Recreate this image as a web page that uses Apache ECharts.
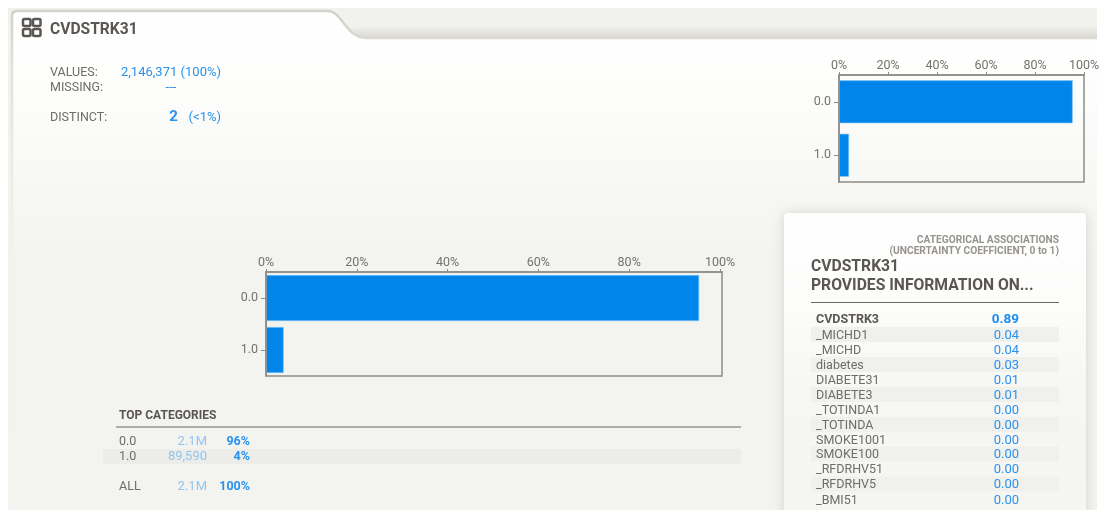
<!DOCTYPE html>
<html>
<head>
<meta charset="utf-8">
<style>html,body{margin:0;padding:0;background:#fff}#c{width:1105px;height:510px}</style>
<script src="https://cdn.jsdelivr.net/npm/echarts@6/dist/echarts.min.js"></script>
</head>
<body>
<div id="c"></div>
<script>
const categories = ['0.0', '1.0'];
const mainValues = [95.4, 3.9];
const sideValues = [95.4, 4.1];
const tickValues = [0, 20, 40, 60, 80, 100];
const assocNames = ['CVDSTRK3', '_MICHD1', '_MICHD', 'diabetes', 'DIABETE31', 'DIABETE3', '_TOTINDA1', '_TOTINDA', 'SMOKE1001', 'SMOKE100', '_RFDRHV51', '_RFDRHV5', '_BMI51'];
const assocValues = ['0.89', '0.04', '0.04', '0.03', '0.01', '0.01', '0.00', '0.00', '0.00', '0.00', '0.00', '0.00', '0.00'];
const topNames = ['0.0', '1.0', 'ALL'];
const topCounts = ['2.1M', '89,590', '2.1M'];
const topPercents = ['96%', '4%', '100%'];
const statLabels = ['VALUES:', 'MISSING:', 'DISTINCT:'];

const FONT = 'Roboto, sans-serif';
const DARK = '#5a5653', GREY = '#6f6c69', BLUE = '#2a92ee', PALE = '#93c5ef', AXIS = '#8f8c87';

echarts.graphic.registerShape('pageTab', echarts.graphic.extendShape({
  shape: {},
  buildPath(ctx) {
    ctx.moveTo(12, 530);
    ctx.lineTo(12, 16);
    ctx.quadraticCurveTo(12, 11, 17, 11);
    ctx.lineTo(328, 11);
    ctx.bezierCurveTo(342, 11, 346, 38, 366, 38);
    ctx.lineTo(1110, 38);
    ctx.lineTo(1110, 530);
    ctx.closePath();
  }
}));

const g = [];
const txt = (text, x, y, fill, size, weight, align) => g.push({
  type: 'text', z: 50, silent: true,
  style: { text, x, y: y + 1, fill, font: (weight || 'normal') + ' ' + size + 'px ' + FONT, textAlign: align || 'left', textVerticalAlign: 'middle' }
});
const rect = (x, y, w, h, fill, z, extra) => g.push(Object.assign({
  type: 'rect', z: z === undefined ? -5 : z, silent: true, shape: { x, y, width: w, height: h }, style: { fill }
}, extra || {}));

// page frame
rect(8, 8, 1089, 502, { type: 'linear', x: 0, y: 0, x2: 0, y2: 1, colorStops: [{ offset: 0, color: '#f1f1ed' }, { offset: 1, color: '#f3f3ef' }] }, -20);
rect(330, 26, 767, 12, { type: 'linear', x: 0, y: 0, x2: 0, y2: 1, colorStops: [{ offset: 0, color: 'rgba(200,198,190,0)' }, { offset: 1, color: 'rgba(200,198,190,0.6)' }] }, -18);
g.push({
  type: 'pageTab', z: -15, silent: true, shape: {},
  style: {
    fill: { type: 'linear', x: 0, y: 0, x2: 0, y2: 1, colorStops: [{ offset: 0, color: '#ffffff' }, { offset: 0.12, color: '#fefefd' }, { offset: 0.48, color: '#f3f3ef' }, { offset: 1, color: '#f3f3ef' }] },
    stroke: { type: 'linear', x: 0, y: 0, x2: 0, y2: 1, colorStops: [{ offset: 0, color: '#d3d0cb' }, { offset: 0.12, color: '#e4e2de' }, { offset: 0.5, color: '#f3f3ef' }, { offset: 1, color: '#f3f3ef' }] },
    lineWidth: 2.5
  }
});
rect(0, 0, 8, 510, '#fff', -10);
rect(1097, 0, 8, 510, '#fff', -10);
rect(0, 0, 1105, 8, '#fff', -10);

// association card
rect(784, 213, 302, 310, '#fff', -8, {
  shape: { x: 784, y: 213, width: 302, height: 310, r: 4 },
  style: {
    fill: { type: 'linear', x: 0, y: 0, x2: 0, y2: 1, colorStops: [{ offset: 0, color: '#ffffff' }, { offset: 0.3, color: '#fcfcfb' }, { offset: 0.6, color: '#f6f6f4' }, { offset: 1, color: '#f5f5f2' }] },
    shadowBlur: 12, shadowColor: 'rgba(0,0,0,0.14)', shadowOffsetX: 0, shadowOffsetY: 0
  }
});

// title icon
[[23, 19], [33, 19], [23, 29], [33, 29]].forEach(p => g.push({
  type: 'rect', z: 50, silent: true, shape: { x: p[0], y: p[1], width: 7.5, height: 7, r: 1.5 }, style: { fill: 'none', stroke: DARK, lineWidth: 2.5 }
}));
txt('CVDSTRK31', 50, 29, DARK, 15.6, 'bold');

// stats
txt(statLabels[0], 50, 72, GREY, 12.5);
txt(statLabels[1], 50, 87, GREY, 12.5);
txt(statLabels[2], 50, 117, GREY, 12.5);
txt('2,146,371', 121, 72, BLUE, 13);
txt('(100%)', 221, 72, BLUE, 13, 'normal', 'right');
txt('---', 171, 87, BLUE, 13, 'normal', 'center');
txt('2', 173.5, 116.5, BLUE, 15, 'bold', 'center');
txt('(<1%)', 221, 116.5, BLUE, 13, 'normal', 'right');

// top categories table
txt('TOP CATEGORIES', 119, 415, DARK, 12, 'bold');
rect(116, 426.5, 625, 1, '#6b6864', 10);
rect(103, 449, 638, 15, '#ecece8', -3);
[440.5, 456, 485.5].forEach((y, i) => {
  txt(topNames[i], 119, y, GREY, 12.5);
  txt(topCounts[i], 207, y, PALE, 13, 'normal', 'right');
  txt(topPercents[i], 250, y, BLUE, 12.5, 'bold', 'right');
});

// associations table
txt('CATEGORICAL ASSOCIATIONS', 1059, 239, '#97938e', 10.2, 'bold', 'right');
txt('(UNCERTAINTY COEFFICIENT, 0 to 1)', 1059, 250.5, '#97938e', 10.2, 'bold', 'right');
txt('CVDSTRK31', 811, 266.5, DARK, 15.7, 'bold');
txt('PROVIDES INFORMATION ON...', 811, 285, DARK, 15.7, 'bold');
rect(811, 302, 248, 1, '#6b6864', 10);
const rowY = [319, 334.5, 349.5, 364.5, 379.5, 394.5, 409.5, 424.5, 439.5, 454, 469, 484, 499.5];
assocNames.forEach((n, i) => {
  const y = rowY[i], first = i === 0;
  if (i % 2 === 1) rect(811, y - 7.5, 248, 15, '#f0f0ed', -3);
  txt(n, 816, y, first ? DARK : GREY, 12.5, first ? 'bold' : 'normal');
  txt(assocValues[i], 1019, y, first ? '#1c8df0' : BLUE, first ? 13.5 : 13, first ? 'bold' : 'normal', 'right');
});

const axisFont = { color: '#75726f', fontFamily: FONT, fontSize: 12.5 };
const axisLine = { show: true, lineStyle: { color: AXIS, width: 1.5 } };
const xAxisFor = (gridIndex, max) => ({
  gridIndex, type: 'value', position: 'top', min: 0, max,
  axisLine, splitLine: { show: false },
  axisTick: { show: true, length: 3, customValues: tickValues, lineStyle: { color: AXIS } },
  axisLabel: Object.assign({ margin: 3, customValues: tickValues, formatter: v => v + '%', hideOverlap: false }, axisFont)
});
const yAxisFor = gridIndex => ({
  gridIndex, type: 'category', inverse: true, data: categories,
  axisLine, splitLine: { show: false },
  axisTick: { show: true, length: 5, alignWithLabel: true, lineStyle: { color: AXIS } },
  axisLabel: Object.assign({ margin: 8 }, axisFont),
  z: 5
});
const barStyle = { color: '#0086eb', borderColor: '#8cc8f6', borderWidth: 0.6 };

const chart = echarts.init(document.getElementById('c'), null, { renderer: 'canvas' });
chart.setOption({
  animation: false,
  backgroundColor: 'transparent',
  grid: [
    { left: 266, top: 272, width: 456, height: 104, show: true, borderColor: AXIS, borderWidth: 1.5, backgroundColor: 'transparent', containLabel: false },
    { left: 839, top: 75, width: 245, height: 107, show: true, borderColor: AXIS, borderWidth: 1.5, backgroundColor: 'transparent', containLabel: false }
  ],
  xAxis: [xAxisFor(0, 100.44), xAxisFor(1, 100)],
  yAxis: [yAxisFor(0), yAxisFor(1)],
  series: [
    { type: 'bar', xAxisIndex: 0, yAxisIndex: 0, data: mainValues, barWidth: 46, itemStyle: barStyle, silent: true },
    { type: 'bar', xAxisIndex: 1, yAxisIndex: 1, data: sideValues, barWidth: 43, itemStyle: barStyle, silent: true }
  ],
  graphic: { elements: g }
});
</script>
</body>
</html>
